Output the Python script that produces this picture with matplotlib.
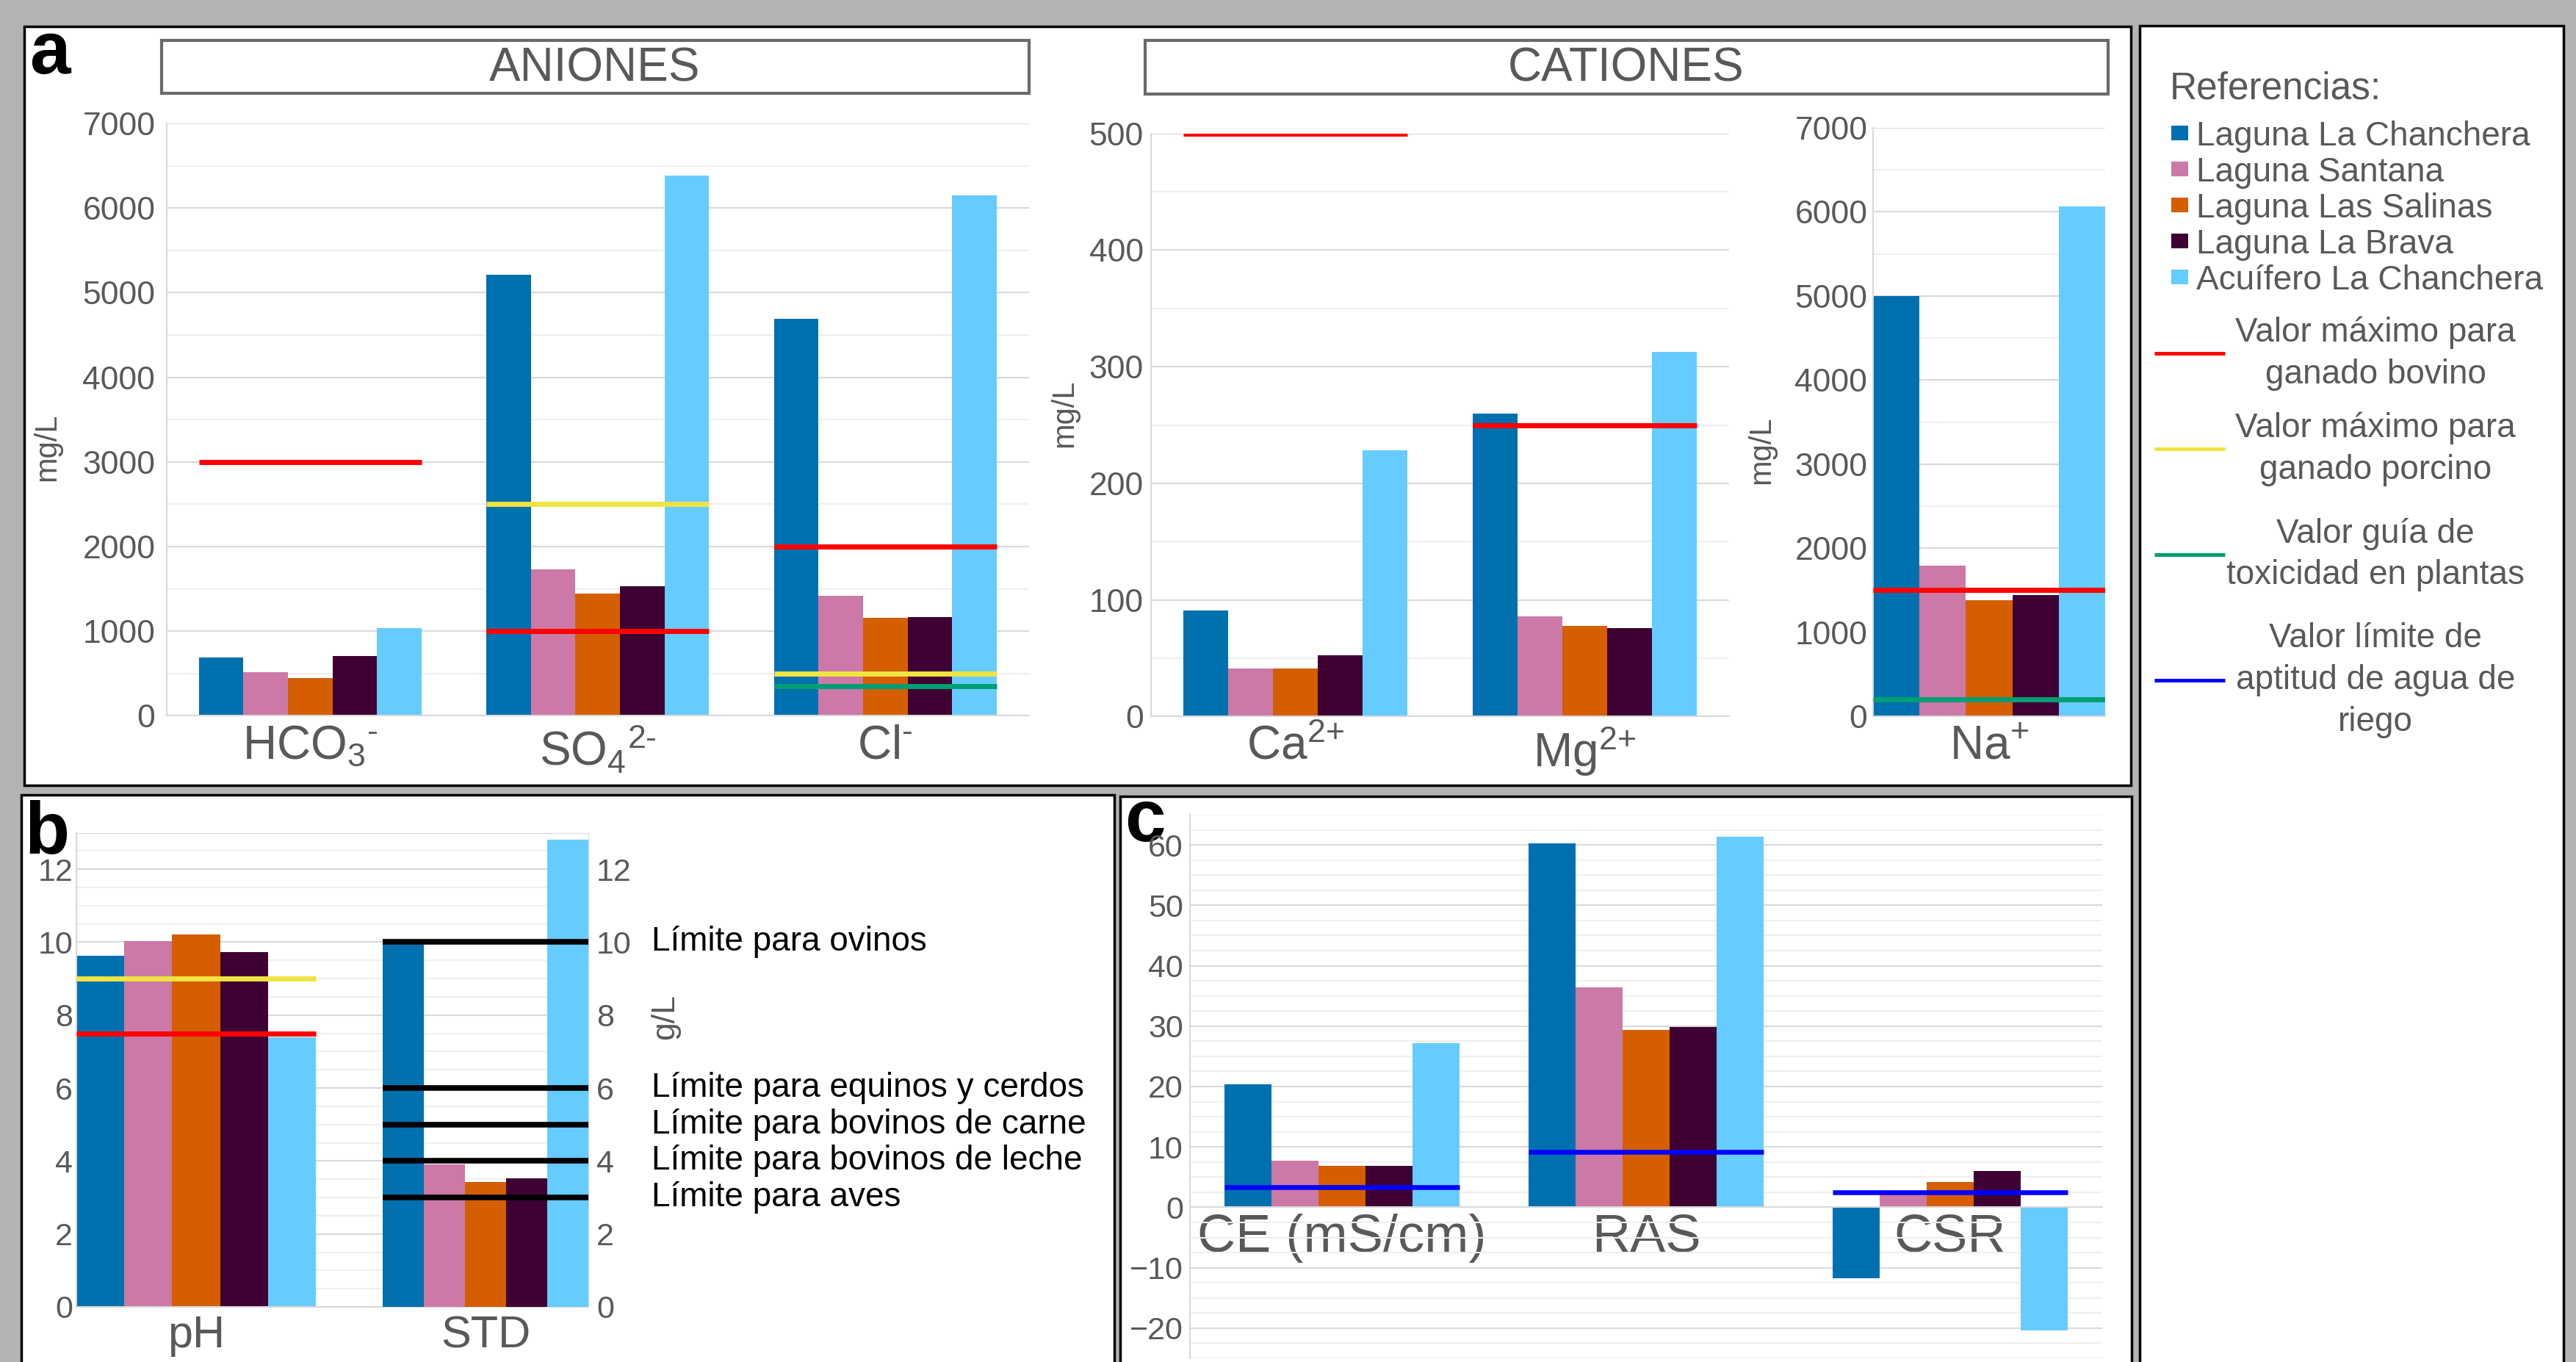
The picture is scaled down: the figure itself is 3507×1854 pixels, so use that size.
import numpy as np
import matplotlib
matplotlib.use('Agg')
import matplotlib.pyplot as plt
import matplotlib.transforms as mtransforms
from matplotlib.patches import Rectangle
from matplotlib.ticker import MultipleLocator

plt.rcParams['font.family'] = ['Liberation Sans', 'DejaVu Sans']
plt.rcParams['mathtext.fontset'] = 'custom'
plt.rcParams['mathtext.rm'] = 'Liberation Sans'
plt.rcParams['mathtext.it'] = 'Liberation Sans:italic'
plt.rcParams['mathtext.bf'] = 'Liberation Sans:bold'
plt.rcParams['mathtext.default'] = 'regular'

# --- data ------------------------------------------------------------------
series = ['Laguna La Chanchera', 'Laguna Santana', 'Laguna Las Salinas',
          'Laguna La Brava', 'Acuífero La Chanchera']
colors = ['#0070AF', '#CC79A7', '#D55E00', '#3F0033', '#66CCFF']

# mg/L, one list per ion, values in series order
anion_labels = [r'HCO$_3$$^{\text{-}}$', r'SO$_4$$^{\text{2-}}$', r'Cl$^{\text{-}}$']
hco3 = [693, 520, 448, 705, 1040]
so4 = [5212, 1733, 1447, 1530, 6384]
cl = [4692, 1417, 1160, 1166, 6151]

cation_labels = [r'Ca$^{\text{2+}}$', r'Mg$^{\text{2+}}$']
ca = [91, 41, 41, 52.5, 228]
mg = [260, 86, 77.7, 76, 313]

na_label = [r'Na$^{\text{+}}$']
na = [5002, 1788, 1384, 1439, 6067]

# limits (None = no line for that category)
anion_bovino = [3000, 1000, 2000]
anion_porcino = [None, 2500, 500]
anion_plantas = [None, None, 350]
cation_bovino = [500, 250]
na_bovino = [1500]
na_plantas = [200]

# panel b
ph = [9.62, 10.02, 10.22, 9.72, 7.40]
std = [9.95, 3.90, 3.42, 3.52, 12.80]          # g/L
ph_porcino = 9.0
ph_bovino = 7.5
std_limits = [10, 6, 5, 4, 3]
std_limit_labels = ['Límite para ovinos', 'Límite para equinos y cerdos',
                    'Límite para bovinos de carne', 'Límite para bovinos de leche',
                    'Límite para aves']

# panel c
c_labels = ['CE (mS/cm)', 'RAS', 'CSR']
ce = [20.4, 7.7, 6.9, 6.9, 27.2]
ras = [60.2, 36.4, 29.4, 29.8, 61.3]
csr = [-11.7, 2.3, 4.2, 6.0, -20.4]
riego = [3.3, 9.2, 2.5]

line_labels = ['Valor máximo para\nganado bovino', 'Valor máximo para\nganado porcino',
               'Valor guía de\ntoxicidad en plantas',
               'Valor límite de\naptitud de agua de\nriego']
line_colors = ['#FF0000', '#F0E442', '#009E73', '#0000FF']
RED, YELLOW, GREEN, BLUE = line_colors

GREY_TXT = '#595959'
GRID_MAJ = '#d9d9d9'
GRID_MIN = '#efefef'

# --- figure ------------------------------------------------------------------
W, H = 3507, 1854
fig = plt.figure(figsize=(W / 100, H / 100), dpi=100)
fig.patch.set_facecolor('#b3b3b3')

# pixel canvas for frames, headings and legend
canvas = fig.add_axes([0, 0, 1, 1])
canvas.set_xlim(0, W)
canvas.set_ylim(H, 0)
canvas.axis('off')


def box(x0, y0, x1, y1, ec='black', lw=2.5):
    canvas.add_patch(Rectangle((x0, y0), x1 - x0, y1 - y0, fc='white', ec=ec, lw=lw))


def px_axes(x0, y0, x1, y1):
    return fig.add_axes([x0 / W, 1 - y1 / H, (x1 - x0) / W, (y1 - y0) / H])


def style(ax, major, minor, ypad, labelsize=32):
    ax.set_facecolor('none')
    ax.yaxis.set_major_locator(MultipleLocator(major))
    ax.yaxis.set_minor_locator(MultipleLocator(minor))
    ax.grid(axis='y', which='major', color=GRID_MAJ, lw=1.5, zorder=0)
    ax.grid(axis='y', which='minor', color=GRID_MIN, lw=1.5, zorder=0)
    ax.set_axisbelow(True)
    for s in ['top', 'right']:
        ax.spines[s].set_visible(False)
    for s in ['left', 'bottom']:
        ax.spines[s].set_color(GRID_MAJ)
        ax.spines[s].set_linewidth(1.5)
    ax.tick_params(axis='y', which='both', length=0, labelsize=labelsize,
                   labelcolor=GREY_TXT, pad=ypad)
    ax.tick_params(axis='x', length=0, labelsize=46, labelcolor=GREY_TXT, pad=8)


def grouped(ax, x, vals, width):
    vals = np.asarray(vals, dtype=float)
    for i in range(len(series)):
        ax.bar(x + (i - 2) * width, vals[:, i], width, color=colors[i],
               linewidth=0, zorder=2)


def limit_lines(ax, x, levels, width, color, lw=5):
    for xi, lv in zip(x, levels):
        if lv is None:
            continue
        ax.hlines(lv, xi - 2.5 * width, xi + 2.5 * width, color=color, lw=lw, zorder=3)


# panel frames
box(33, 36, 2901, 1069)
box(29, 1082, 1517, 1900)
box(1525, 1084, 2902, 1900)
box(2913, 35, 3490, 1900)

# headings
box(220, 55, 1401, 127, ec='#6a6a6a', lw=3)
canvas.text(810, 93, 'ANIONES', fontsize=46, color=GREY_TXT, ha='center', va='center')
box(1559, 55, 2870, 128, ec='#6a6a6a', lw=3)
canvas.text(2214, 93, 'CATIONES', fontsize=46, color=GREY_TXT, ha='center', va='center')

for letter, (lx, ly) in zip('abc', [(40, 100), (33, 1162), (1531, 1145)]):
    canvas.text(lx, ly, letter, fontsize=72, fontweight='bold', color='black', va='baseline')

# --- panel a: anions -----------------------------------------------------------
w = 0.155
ax1 = px_axes(226.6, 168, 1401, 974.5)
style(ax1, 1000, 500, ypad=11)
xa = np.arange(len(anion_labels))
grouped(ax1, xa, [hco3, so4, cl], w)
limit_lines(ax1, xa, anion_bovino, w, RED)
limit_lines(ax1, xa, anion_porcino, w, YELLOW)
limit_lines(ax1, xa, anion_plantas, w, GREEN)
ax1.set_xlim(-0.5, len(anion_labels) - 0.5)
ax1.set_ylim(0, 7000)
ax1.set_xticks(xa, anion_labels)
ax1.set_ylabel('mg/L', fontsize=30, color=GREY_TXT)
ax1.yaxis.set_label_coords(-0.121, 0.453)

# --- panel a: Ca, Mg -----------------------------------------------------------
ax2 = px_axes(1566.7, 181.8, 2354, 975.2)
style(ax2, 100, 50, ypad=7)
xc = np.arange(len(cation_labels))
grouped(ax2, xc, [ca, mg], w)
limit_lines(ax2, xc, cation_bovino, w, RED)
ax2.set_xlim(-0.5, len(cation_labels) - 0.5)
ax2.set_ylim(0, 500)
ax2.set_xticks(xc, cation_labels)
ax2.set_ylabel('mg/L', fontsize=30, color=GREY_TXT)
ax2.yaxis.set_label_coords(-0.124, 0.52)

# --- panel a: Na ---------------------------------------------------------------
ax3 = px_axes(2550, 174, 2866, 975)
style(ax3, 1000, 500, ypad=5.5)
wn = 0.2
xn = np.arange(1)
grouped(ax3, xn, [na], wn)
limit_lines(ax3, xn, na_bovino, wn, RED)
limit_lines(ax3, xn, na_plantas, wn, GREEN)
ax3.set_xlim(-0.5, 0.5)
ax3.set_ylim(0, 7000)
ax3.set_xticks(xn, na_label)
ax3.set_ylabel('mg/L', fontsize=30, color=GREY_TXT)
ax3.yaxis.set_label_coords(-0.418, 0.452)

# --- panel b: pH and STD ------------------------------------------------------
axb = px_axes(104, 1133.5, 801, 1779)
style(axb, 2, 0.5, ypad=3.5, labelsize=31)
axb.spines['top'].set_visible(True)
axb.spines['top'].set_color(GRID_MAJ)
axb.spines['right'].set_visible(True)
axb.spines['right'].set_color(GRID_MAJ)
w_ph, w_std = 0.187, 0.1607
x_ph = -0.5 + 2.5 * w_ph
x_std = 1.5 - 2.5 * w_std
grouped(axb, np.array([x_ph]), [ph], w_ph)
limit_lines(axb, [x_ph], [ph_porcino], w_ph, YELLOW)
limit_lines(axb, [x_ph], [ph_bovino], w_ph, RED)
axb.set_xlim(-0.5, 1.5)
axb.set_ylim(0, 13)
axb.set_yticks(np.arange(0, 13, 2))
axb.set_xticks([x_ph, x_std], ['pH', 'STD'])
axb.tick_params(axis='x', labelsize=44)

axb2 = axb.twinx()
axb2.set_ylim(0, 13)
axb2.set_yticks(np.arange(0, 13, 2))
axb2.tick_params(axis='y', length=0, labelsize=31, labelcolor=GREY_TXT, pad=8)
for s in axb2.spines.values():
    s.set_visible(False)
grouped(axb2, np.array([x_std]), [std], w_std)
limit_lines(axb2, [x_std] * len(std_limits), std_limits, w_std, 'black', lw=5.5)
axb2.set_ylabel('g/L', fontsize=32, color=GREY_TXT)
axb2.yaxis.set_label_coords(1.121, 0.612)
trans = mtransforms.blended_transform_factory(axb2.transAxes, axb2.transData)
for lv, lab in zip(std_limits, std_limit_labels):
    axb2.text(1.123, lv, lab, transform=trans, fontsize=33, color='black',
              ha='left', va='center')

# --- panel c: CE, RAS, CSR ------------------------------------------------------
axc = px_axes(1620, 1109, 2862, 1849)
style(axc, 10, 2.5, ypad=6.5, labelsize=31)
xcc = np.arange(len(c_labels))
grouped(axc, xcc, [ce, ras, csr], w)
limit_lines(axc, xcc, riego, w, BLUE, lw=4.7)
axc.set_xlim(-0.5, len(c_labels) - 0.5)
axc.set_ylim(-25, 65)
axc.spines['bottom'].set_position(('data', 0))
axc.set_xticks(xcc, c_labels)
axc.tick_params(axis='x', labelsize=52, pad=6)

# --- legend -------------------------------------------------------------------
canvas.text(2954, 134, 'Referencias:', fontsize=37, color=GREY_TXT, va='baseline')
for i, (name, col) in enumerate(zip(series, colors)):
    yb = 198 + 49 * i
    canvas.add_patch(Rectangle((2956, yb - 27), 23, 20, color=col, lw=0))
    canvas.text(2990, yb, name, fontsize=33, color=GREY_TXT, va='baseline')
for lab, col, y in zip(line_labels, line_colors, [481, 611, 755, 926]):
    canvas.plot([2933, 3029], [y, y], color=col, lw=3.6, solid_capstyle='butt')
    canvas.text(3234, y, lab, fontsize=33, color=GREY_TXT, ha='center', va='center',
                multialignment='center', linespacing=1.38)

fig.savefig('out.png', dpi=100, facecolor=fig.get_facecolor())
